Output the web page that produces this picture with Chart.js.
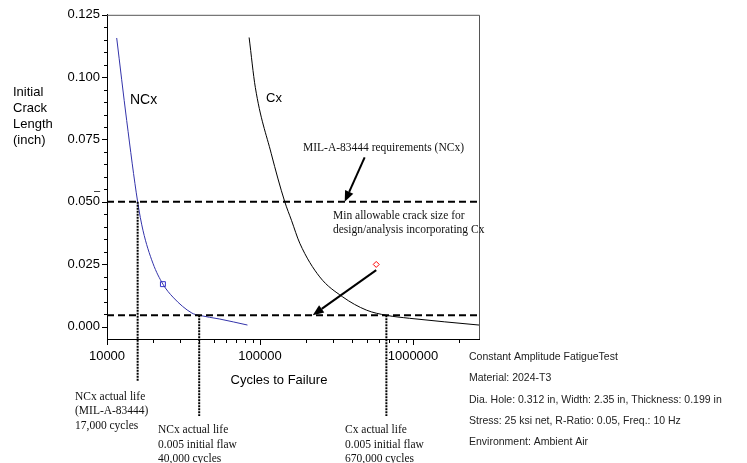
<!DOCTYPE html>
<html>
<head>
<meta charset="utf-8">
<title>Initial crack length vs cycles to failure</title>
<script src="https://cdn.jsdelivr.net/npm/chart.js@4.4.1/dist/chart.umd.min.js"></script>
<style>
  body { margin: 0; background: #fff; }
  canvas { display: block; }
</style>
</head>
<body>
<canvas id="crackChart" width="747" height="463"></canvas>
<script>
// NCx curve : cycles to failure / initial crack length (inch)
const ncxCycles = [11570, 13450, 15860, 17180, 19950, 23200, 26970, 35890, 40050, 54640, 82800];
const ncxCrack  = [0.1157, 0.0826, 0.0500, 0.0386, 0.0254, 0.0170, 0.0118, 0.0054, 0.0045, 0.0030, 0.0006];

// Cx curve
const cxCycles = [84900, 93200, 118500, 145200, 160600, 182000, 245700, 346900, 495500, 669900, 950000, 2700000];
const cxCrack  = [0.1159, 0.0959, 0.0693, 0.0500, 0.0426, 0.0334, 0.0199, 0.0119, 0.0066, 0.0045, 0.0033, 0.0006];

// test points
const ncxTestCycles = [23200];
const ncxTestCrack  = [0.0170];
const cxTestCycles  = [575000];
const cxTestCrack   = [0.0249];

// horizontal requirement lines + actual life markers
const refCrack   = [0.050, 0.0045];
const lifeCycles = [15860, 40050, 669900];
const lifeCrack  = [0.050, 0.0045, 0.0045];
const lifeDrop   = [42, 77, 77];   // how far the dotted line runs below the axis

// arrows (tail -> tip)
const arrowTailCycles = [483000, 575000];
const arrowTailCrack  = [0.0678, 0.0226];
const arrowTipCycles  = [357700, 221100];
const arrowTipCrack   = [0.050, 0.0045];

// axes
const xTickValues = [10000, 100000, 1000000];
const yTickValues = [0, 0.025, 0.05, 0.075, 0.1, 0.125];
const xMin = 10000, xMax = 2700000;
const yMin = -0.005, yMax = 0.125;

const SANS = '"Liberation Sans", Arial, sans-serif';
const SERIF = '"Liberation Serif", "Times New Roman", serif';

function pts(xs, ys) { return xs.map((x, i) => ({ x, y: ys[i] })); }

function text(ctx, str, x, y, font, align) {
    ctx.font = font;
    ctx.textAlign = align || 'left';
    ctx.textBaseline = 'middle';
    ctx.fillText(str, x, y);
}

const overlay = {
    id: 'overlay',
    beforeDatasetsDraw(chart) {
        const { ctx, chartArea: a } = chart;
        // top and right frame
        ctx.save();
        ctx.strokeStyle = '#555';
        ctx.lineWidth = 1;
        ctx.beginPath();
        ctx.moveTo(a.left, a.top + 0.5);
        ctx.lineTo(a.right + 0.5, a.top + 0.5);
        ctx.lineTo(a.right + 0.5, a.bottom);
        ctx.stroke();
        ctx.restore();
    },
    afterDatasetsDraw(chart) {
        const { ctx, chartArea: a, scales: { x, y } } = chart;
        ctx.save();
        ctx.strokeStyle = '#000';

        // dashed requirement lines
        ctx.lineWidth = 2;
        ctx.setLineDash([7, 4]);
        refCrack.forEach(v => {
            const py = y.getPixelForValue(v);
            ctx.beginPath();
            ctx.moveTo(a.left, py);
            ctx.lineTo(a.right, py);
            ctx.stroke();
        });

        // dotted life lines, running below the axis
        ctx.setLineDash([2, 1]);
        lifeCycles.forEach((c, i) => {
            const px = x.getPixelForValue(c);
            ctx.beginPath();
            ctx.moveTo(px, y.getPixelForValue(lifeCrack[i]));
            ctx.lineTo(px, a.bottom + lifeDrop[i]);
            ctx.stroke();
        });

        // arrows
        ctx.setLineDash([]);
        ctx.fillStyle = '#000';
        arrowTailCycles.forEach((c, i) => {
            const x1 = x.getPixelForValue(c), y1 = y.getPixelForValue(arrowTailCrack[i]);
            const x2 = x.getPixelForValue(arrowTipCycles[i]), y2 = y.getPixelForValue(arrowTipCrack[i]);
            const ang = Math.atan2(y2 - y1, x2 - x1);
            const len = 11, hw = 4.5;
            const bx = x2 - len * Math.cos(ang), by = y2 - len * Math.sin(ang);
            ctx.lineWidth = 2;
            ctx.beginPath();
            ctx.moveTo(x1, y1);
            ctx.lineTo(bx, by);
            ctx.stroke();
            ctx.beginPath();
            ctx.moveTo(x2, y2);
            ctx.lineTo(bx + hw * Math.sin(ang), by - hw * Math.cos(ang));
            ctx.lineTo(bx - hw * Math.sin(ang), by + hw * Math.cos(ang));
            ctx.closePath();
            ctx.fill();
        });
        ctx.restore();
    },
    afterDraw(chart) {
        const { ctx, chartArea: a, scales: { x, y } } = chart;
        ctx.save();
        ctx.strokeStyle = '#000';
        ctx.lineWidth = 1;

        // x ticks (outside, major longer)
        ctx.beginPath();
        for (let d = 10000; d <= xMax; d *= 10) {
            for (let m = 1; m <= 9; m++) {
                const v = d * m;
                if (v > xMax) break;
                const px = Math.round(x.getPixelForValue(v)) + 0.5;
                ctx.moveTo(px, a.bottom);
                ctx.lineTo(px, a.bottom + (m === 1 ? 6 : 4));
            }
        }
        // y ticks every 0.005
        for (let i = 0; i <= 25; i++) {
            const py = Math.round(y.getPixelForValue(i * 0.005)) + 0.5;
            ctx.moveTo(a.left, py);
            ctx.lineTo(a.left - (i % 5 === 0 ? 5 : 3), py);
        }
        ctx.stroke();

        ctx.fillStyle = '#000';
        text(ctx, '\u2013', 100, 191, '11px ' + SANS, 'right');

        // y axis title
        ['Initial', 'Crack', 'Length', '(inch)'].forEach((s, i) => text(ctx, s, 13, 92 + i * 16.3, '13px ' + SANS));
        // x axis title
        text(ctx, 'Cycles to Failure', 279, 380, '13px ' + SANS, 'center');

        // curve labels
        text(ctx, 'NCx', 130, 100, '14px ' + SANS);
        text(ctx, 'Cx', 266, 98, '13px ' + SANS);

        // annotations
        ctx.fillStyle = '#111';
        const f = '11.5px ' + SERIF;
        text(ctx, 'MIL-A-83444 requirements (NCx)', 303, 148, f);
        text(ctx, 'Min allowable crack size for', 333, 216, f);
        text(ctx, 'design/analysis incorporating Cx', 333, 229.5, f);

        text(ctx, 'NCx actual life', 75, 397, f);
        text(ctx, '(MIL-A-83444)', 75, 411, f);
        text(ctx, '17,000 cycles', 75, 425.5, f);

        text(ctx, 'NCx actual life', 158, 430, f);
        text(ctx, '0.005 initial flaw', 158, 445, f);
        text(ctx, '40,000 cycles', 158, 459, f);

        text(ctx, 'Cx actual life', 345, 430, f);
        text(ctx, '0.005 initial flaw', 345, 445, f);
        text(ctx, '670,000 cycles', 345, 459, f);

        // test conditions
        ctx.fillStyle = '#222';
        const g = '10.5px ' + SANS;
        ['Constant Amplitude FatigueTest',
         'Material: 2024-T3',
         'Dia. Hole: 0.312 in, Width: 2.35 in, Thickness: 0.199 in',
         'Stress: 25 ksi net, R-Ratio: 0.05, Freq.: 10 Hz',
         'Environment: Ambient Air'].forEach((s, i) => text(ctx, s, 469, 357 + i * 21.4, g));
        ctx.restore();
    }
};

const chart = new Chart(document.getElementById('crackChart').getContext('2d'), {
    type: 'scatter',
    data: {
        datasets: [
            {
                label: 'NCx',
                data: pts(ncxCycles, ncxCrack),
                showLine: true,
                borderColor: '#3333aa',
                borderWidth: 1,
                pointRadius: 0,
                cubicInterpolationMode: 'monotone'
            },
            {
                label: 'Cx',
                data: pts(cxCycles, cxCrack),
                showLine: true,
                borderColor: '#000',
                borderWidth: 1,
                pointRadius: 0,
                cubicInterpolationMode: 'monotone'
            },
            {
                label: 'NCx test',
                data: pts(ncxTestCycles, ncxTestCrack),
                pointStyle: 'rect',
                pointRadius: 3.5,
                borderColor: '#3333cc',
                backgroundColor: '#fff',
                borderWidth: 1
            },
            {
                label: 'Cx test',
                data: pts(cxTestCycles, cxTestCrack),
                pointStyle: 'rectRot',
                pointRadius: 3,
                borderColor: '#ff0000',
                backgroundColor: '#fff',
                borderWidth: 1
            }
        ]
    },
    options: {
        responsive: false,
        animation: false,
        layout: { padding: { top: 14, right: 268, left: 0, bottom: 0 } },
        plugins: { legend: { display: false }, tooltip: { enabled: false } },
        scales: {
            x: {
                type: 'logarithmic',
                min: xMin,
                max: xMax,
                grid: { display: false, drawTicks: false },
                border: { display: true, color: '#000', width: 1 },
                afterBuildTicks: s => { s.ticks = xTickValues.map(v => ({ value: v })); },
                afterFit: s => { s.height = 124; },
                ticks: {
                    padding: 10,
                    autoSkip: false,
                    maxRotation: 0,
                    color: '#000',
                    font: { family: SANS, size: 13 },
                    callback: v => String(v)
                }
            },
            y: {
                min: yMin,
                max: yMax,
                grid: { display: false, drawTicks: false },
                border: { display: true, color: '#000', width: 1 },
                afterBuildTicks: s => { s.ticks = yTickValues.map(v => ({ value: v })); },
                afterFit: s => { s.width = 107; },
                ticks: {
                    padding: 7,
                    color: '#000',
                    font: { family: SANS, size: 13 },
                    callback: v => Number(v).toFixed(3)
                }
            }
        }
    },
    plugins: [overlay]
});
</script>
</body>
</html>
